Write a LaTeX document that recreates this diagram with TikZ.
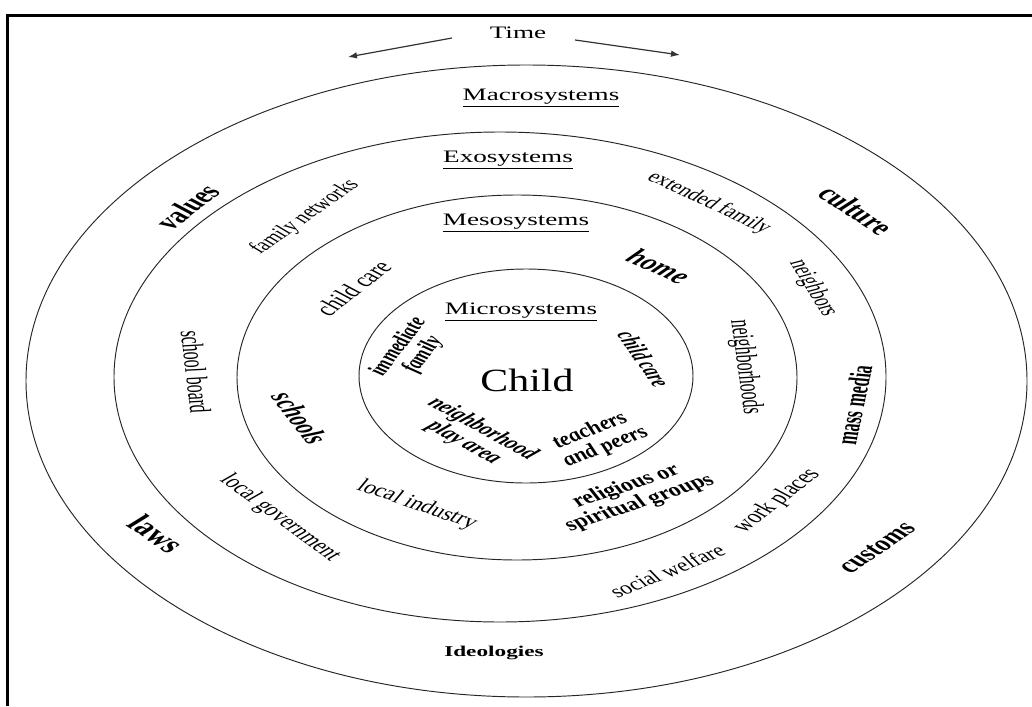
\documentclass[tikz,border=0pt]{standalone}
\usepackage{fontspec}
\setmainfont{Liberation Serif}
\usetikzlibrary{arrows.meta}
\begin{document}
\begin{tikzpicture}[x=1pt,y=-1pt,
  ring/.style={draw=black!85, line width=0.95pt},
  frameline/.style={draw=black, line width=2.2pt},
  timearrow/.style={draw=black!80, line width=1.2pt, -{Latex[length=9pt,width=6.5pt]}},
  rr/.style={rotate={atan(1.55*tan(#1))}, yscale=1.22},
  lbl/.style={inner sep=0pt, align=center},
  head/.style={lbl, font=\fontsize{17.5}{20}\selectfont},
  reg/.style={lbl, font=\fontsize{#1}{#1}\selectfont},
  bld/.style={lbl, font=\fontsize{#1}{#1}\selectfont\bfseries},
  itl/.style={lbl, font=\fontsize{#1}{#1}\selectfont\itshape},
  bit/.style={lbl, font=\fontsize{#1}{#1}\selectfont\bfseries\itshape}
]
\useasboundingbox (0,0) rectangle (1032,706);
% frame
\draw[frameline] (7.5,706) -- (7.5,15.5) -- (1032,15.5);
% rings
\draw[ring] (526.5,381) ellipse [x radius=500.5, y radius=316];
\draw[ring] (500,377) ellipse [x radius=386, y radius=245];
\draw[ring] (517,377.5) ellipse [x radius=280, y radius=182.5];
\draw[ring] (526,376) ellipse [x radius=167, y radius=107];
% time arrows
\coordinate (tlA) at (452,38);
\coordinate (tlB) at (348,57);
\coordinate (trA) at (575,40);
\coordinate (trB) at (680,55);
\draw[timearrow] (tlA) -- (tlB);
\draw[timearrow] (trA) -- (trB);
\begin{scope}[x=0.645161pt, xscale=1.55, transform shape]
\node[head] (time) at (518,33) {Time};
\node[head] (macro) at (541,98) {\underline{Macrosystems}};
\node[head] (exo) at (508,160) {\underline{Exosystems}};
\node[head] (meso) at (516,223) {\underline{Mesosystems}};
\node[head] (micro) at (521,312) {\underline{Microsystems}};
\node[reg=27, yscale=1.2] (child) at (527,380) {Child};
% microsystem labels
\node[bit=14.5, rr=52] (immfam) at (411,351) {immediate\\family};
\node[bit=14.5, rr=-55] (ccmicro) at (644,359) {child care};
\node[bit=15, rr=-29] (nbplay) at (473,436) {neighborhood\\play area};
\node[bit=15.5, rr=21.5] (teach) at (598,439) {teachers\\and peers};
% mesosystem labels
\node[reg=16.5, rr=38] (ccmeso) at (353,288) {child care};
\node[bit=19, rr=-24] (home) at (659,266) {home};
\node[reg=16, rr=-82] (nbhoods) at (745,367) {neighborhoods};
\node[bit=18, rr=-52] (schools) at (300,418) {schools};
\node[reg=15.5, rr=-19] (locind) at (417,505) {local industry};
\node[bld=15.5, rr=18.4] (relig) at (633,495) {religious or\\spiritual groups};
% exosystem labels
\node[reg=14.5, rr=35] (famnet) at (305,217) {family networks};
\node[reg=14.5, rr=-25] (extfam) at (709,203) {extended family};
\node[reg=15, rr=-58] (neigh) at (813,288) {neighbors};
\node[reg=16, rr=-83] (schboard) at (196,372) {school board};
\node[reg=15.5, rr=-36] (locgov) at (280,518) {local government};
\node[reg=16, rr=38] (work) at (777,501) {work places};
\node[reg=15, rr=22] (social) at (667,571) {social welfare};
\node[bld=16, rr=78] (mass) at (854,405) {mass media};
% macrosystem labels
\node[bld=19, rr=38] (values) at (187,207) {values};
\node[bld=19, rr=-33] (culture) at (856,210) {culture};
\node[bld=21, rr=-34] (laws) at (157,534) {laws};
\node[bld=18, rr=34] (customs) at (877,548) {customs};
\node[bld=15] (ideo) at (494,653) {Ideologies};
\end{scope}
\end{tikzpicture}
\end{document}
